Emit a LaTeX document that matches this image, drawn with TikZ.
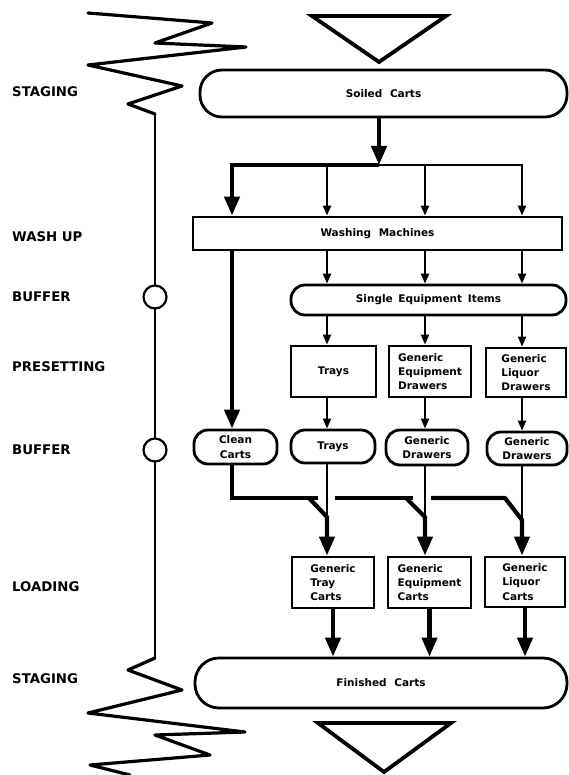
\documentclass[tikz,border=0pt]{standalone}
\usepackage{fontspec}
\setsansfont{DejaVu Sans}
\usetikzlibrary{arrows.meta}
\begin{document}
\begin{tikzpicture}[x=1pt,y=-1pt,
  lbl/.style={font=\sffamily\bfseries\fontsize{13.3}{14}\selectfont, anchor=west, inner sep=0pt},
  box/.style={draw, line width=2.8pt, inner sep=0pt, align=center,
              font=\sffamily\bfseries\fontsize{10.5}{14.3}\selectfont},
  lbox/.style={box, align=left},
  pill/.style={box, rounded corners=#1},
  thinln/.style={line width=2.2pt},
  thickln/.style={line width=4.2pt},
  thinarrow/.style={thinln, -{Triangle[length=10pt,width=8pt]}},
  thickarrow/.style={thickln, -{Triangle[length=19pt,width=15pt]}},
  zig/.style={line width=3.2pt, line join=round, line cap=round},
  tri/.style={line width=3.8pt, line join=miter},
  buf/.style={draw, line width=2.2pt, fill=white, circle, minimum size=23pt, inner sep=0pt}
]
\useasboundingbox (0,0) rectangle (568,775);

% ---- left labels
\node[lbl] (l1) at (12,92) {STAGING};
\node[lbl] (l2) at (12,237) {WASH UP};
\node[lbl] (l3) at (12,297) {BUFFER};
\node[lbl] (l4) at (12,367) {PRESETTING};
\node[lbl] (l5) at (12,450) {BUFFER};
\node[lbl] (l6) at (12,587) {LOADING};
\node[lbl] (l7) at (12,679) {STAGING};

% ---- timeline with zigzags
\coordinate (ztop) at (155,114);
\coordinate (zbot) at (155,658);
\draw[zig] (88,13) -- (212,23) -- (155,43) -- (246,47) -- (88,65) -- (182,86) -- (128,104) -- (ztop);
\draw[zig] (zbot) -- (128,670) -- (182,690) -- (88,713) -- (245,732) -- (155,735) -- (210,755) -- (90,765) -- (130,775);
\draw[thinln] (ztop) -- (zbot);
\node[buf] (b1) at (155,297) {};
\node[buf] (b2) at (155,450) {};

% ---- triangles
\draw[tri] (312,16) -- (446,16) -- (379,62) -- cycle;
\draw[tri] (318,723) -- (451,723) -- (384,772) -- cycle;

% ---- nodes
\node[pill=22, minimum width=367pt, minimum height=47pt] (soiled) at (383.5,93.5) {Soiled\hspace{4pt} Carts};
\node[box, minimum width=369pt, minimum height=33pt] (wash) at (377.5,233.5) {Washing\hspace{4pt} Machines};
\node[pill=14, minimum width=275pt, minimum height=30pt] (sei) at (428.5,300) {Single\hspace{2pt} Equipment\hspace{2pt} Items};

\node[box, minimum width=85pt, minimum height=51pt] (ptrays) at (333.5,371.5) {Trays};
\node[lbox, minimum width=82pt, minimum height=51pt] (ped) at (430,371.5) {Generic\\Equipment\\Drawers};
\node[lbox, minimum width=80pt, minimum height=49pt] (pld) at (526,372.5) {Generic\\Liquor\\Drawers};

\node[pill=14, minimum width=83pt, minimum height=34pt] (clean) at (235.5,447) {Clean\\Carts};
\node[pill=14, minimum width=84pt, minimum height=33pt] (btrays) at (333,446.5) {Trays};
\node[pill=14, minimum width=82pt, minimum height=35pt] (bgd1) at (427,447.5) {Generic\\Drawers};
\node[pill=14, minimum width=80pt, minimum height=33pt] (bgd2) at (527,448.5) {Generic\\Drawers};

\node[lbox, minimum width=82pt, minimum height=51pt] (ltray) at (333,582.5) {Generic\\Tray\hspace{16pt}\\Carts\hspace{12pt}};
\node[lbox, minimum width=83pt, minimum height=51pt] (lequip) at (429.5,582.5) {Generic\\Equipment\\Carts};
\node[lbox, minimum width=80pt, minimum height=50pt] (lliq) at (525,582) {Generic\\Liquor\\Carts};

\node[pill=24, minimum width=372pt, minimum height=50pt] (finished) at (381,683) {Finished\hspace{4pt} Carts};

% ---- columns
\coordinate (c0) at (232,0);
\coordinate (c1) at (327,0);
\coordinate (c2) at (425,0);
\coordinate (c3) at (522,0);

% ---- soiled -> washing
\coordinate (split) at (379,165);
\draw[thickarrow] (soiled.south -| split) -- (split);
\draw[thickarrow, line join=miter] (split) -- (split -| c0) -- (wash.north -| c0);
\draw[thinarrow, line join=miter] (split) -- (split -| c3) -- (wash.north -| c3);
\draw[thinarrow] (split -| c1) -- (wash.north -| c1);
\draw[thinarrow] (split -| c2) -- (wash.north -| c2);

% ---- washing -> clean / single items
\draw[thickarrow] (wash.south -| c0) -- (clean.north -| c0);
\foreach \c in {c1,c2,c3}
  \draw[thinarrow] (wash.south -| \c) -- (sei.north -| \c);

% ---- single items -> presetting -> buffers
\draw[thinarrow] (sei.south -| c1) -- (ptrays.north -| c1);
\draw[thinarrow] (sei.south -| c2) -- (ped.north -| c2);
\draw[thinarrow] (sei.south -| c3) -- (pld.north -| c3);
\draw[thinarrow] (ptrays.south -| c1) -- (btrays.north -| c1);
\draw[thinarrow] (ped.south -| c2) -- (bgd1.north -| c2);
\draw[thinarrow] (pld.south -| c3) -- (bgd2.north -| c3);

% ---- buffers -> loading (merge)
\coordinate (bus) at (0,498);
\coordinate (e1) at (318,498);
\coordinate (s2) at (335,498);
\coordinate (e2) at (413,498);
\coordinate (s3) at (431,498);
\coordinate (e3) at (505,498);
\coordinate (d1) at (309,498);
\coordinate (d2) at (406,498);
\coordinate (m1) at (327,517);
\coordinate (m2) at (425,517);
\coordinate (m3) at (522,520);

\draw[thickln, line join=miter] (clean.south -| c0) -- (bus -| c0) -- (e1);
\draw[thickarrow, line join=round] (d1) -- (m1) -- (ltray.north -| m1);
\draw[thinln] (btrays.south -| c1) -- (m1);

\draw[thickln] (s2) -- (e2);
\draw[thickarrow, line join=round] (d2) -- (m2) -- (lequip.north -| m2);
\draw[thinln] (bgd1.south -| c2) -- (m2);

\draw[thickarrow, line join=round] (s3) -- (e3) -- (m3) -- (lliq.north -| m3);
\draw[thinln] (bgd2.south -| c3) -- (m3);

% ---- loading -> finished
\draw[thickarrow] (ltray.south) -- (ltray.south |- finished.north);
\draw[thickarrow] (lequip.south) -- (lequip.south |- finished.north);
\draw[thickarrow] (lliq.south) -- (lliq.south |- finished.north);
\end{tikzpicture}
\end{document}
